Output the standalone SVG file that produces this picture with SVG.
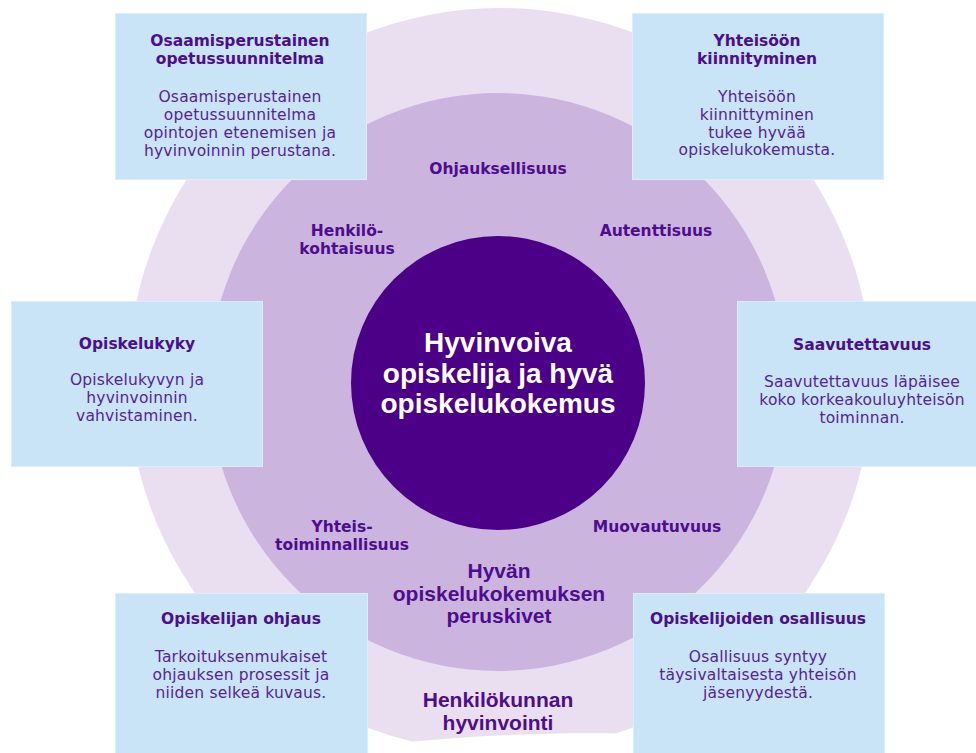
<svg xmlns="http://www.w3.org/2000/svg" width="976" height="753" viewBox="0 0 976 753">
  <style>
    text { text-anchor: middle; }
    .box { fill: #c9e4f6; stroke: #d9edfa; stroke-width: 1; }
    .bt { font-family: "DejaVu Sans", "Liberation Sans", sans-serif; font-size: 15.5px; font-weight: bold; fill: #4b0e8e; }
    .bb { font-family: "DejaVu Sans", "Liberation Sans", sans-serif; font-size: 15.5px; fill: #55229a; letter-spacing: 0.2px; }
    .ring { font-family: "DejaVu Sans", "Liberation Sans", sans-serif; font-size: 15.5px; font-weight: bold; fill: #4e0c90; }
    .big { font-family: "Liberation Sans", Arial, sans-serif; font-size: 21px; font-weight: bold; fill: #4e0c90; }
    .center { font-family: "Liberation Sans", Arial, sans-serif; font-size: 28px; font-weight: bold; fill: #ffffff; }
  </style>
  <rect x="0" y="0" width="976" height="753" fill="#ffffff"/>

  <g id="outer-ring">
    <circle cx="500" cy="380" r="372" fill="#e9dff0"/>
    <path d="M360,753 L360,749 L367,748 C420,738 540,731 640,734 L640,753 Z" fill="#ffffff"/>
    <text class="big" x="498" y="707"><tspan x="498">Henkilökunnan</tspan><tspan x="498" dy="23">hyvinvointi</tspan></text>
  </g>

  <g id="middle-ring">
    <circle cx="498" cy="382" r="289" fill="#cbb5de"/>
    <text class="big" x="499" y="578"><tspan x="499">Hyvän</tspan><tspan x="499" dy="22.5">opiskelukokemuksen</tspan><tspan x="499" dy="22.5">peruskivet</tspan></text>
  </g>

  <g id="label-ohjauksellisuus"><text class="ring" x="498" y="174">Ohjauksellisuus</text></g>
  <g id="label-henkilokohtaisuus">
    <text class="ring" x="347" y="236"><tspan x="347">Henkilö-</tspan><tspan x="347" dy="18.2">kohtaisuus</tspan></text>
  </g>
  <g id="label-autenttisuus"><text class="ring" x="656" y="236">Autenttisuus</text></g>
  <g id="label-yhteistoiminnallisuus">
    <text class="ring" x="342" y="532"><tspan x="342">Yhteis-</tspan><tspan x="342" dy="18.2">toiminnallisuus</tspan></text>
  </g>
  <g id="label-muovautuvuus"><text class="ring" x="657" y="532">Muovautuvuus</text></g>

  <g id="center">
    <circle cx="498" cy="383" r="147" fill="#4b0087"/>
    <text class="center" x="498" y="352"><tspan x="498">Hyvinvoiva</tspan><tspan x="498" dy="31">opiskelija ja hyvä</tspan><tspan x="498" dy="30">opiskelukokemus</tspan></text>
  </g>

  <g id="connectors"></g>

  <g id="box-osaamisperustainen">
    <rect class="box" x="115.5" y="13.5" width="251" height="166"/>
    <text class="bt" x="240" y="46"><tspan x="240">Osaamisperustainen</tspan><tspan x="240" dy="18">opetussuunnitelma</tspan></text>
    <text class="bb" x="240" y="102"><tspan x="240">Osaamisperustainen</tspan><tspan x="240" dy="18">opetussuunnitelma</tspan><tspan x="240" dy="17.7">opintojen etenemisen ja</tspan><tspan x="240" dy="17.8">hyvinvoinnin perustana.</tspan></text>
  </g>

  <g id="box-yhteisoon">
    <rect class="box" x="632.5" y="13.5" width="251" height="166"/>
    <text class="bt" x="757" y="46"><tspan x="757">Yhteisöön</tspan><tspan x="757" dy="18">kiinnityminen</tspan></text>
    <text class="bb" x="757" y="102"><tspan x="757">Yhteisöön</tspan><tspan x="757" dy="17.7">kiinnittyminen</tspan><tspan x="757" dy="17.8">tukee hyvää</tspan><tspan x="757" dy="17.8">opiskelukokemusta.</tspan></text>
  </g>

  <g id="box-opiskelukyky">
    <rect class="box" x="11.5" y="301.5" width="251" height="165"/>
    <text class="bt" x="137" y="349">Opiskelukyky</text>
    <text class="bb" x="137" y="385"><tspan x="137">Opiskelukyvyn ja</tspan><tspan x="137" dy="18">hyvinvoinnin</tspan><tspan x="137" dy="18">vahvistaminen.</tspan></text>
  </g>

  <g id="box-saavutettavuus">
    <rect class="box" x="737.5" y="301.5" width="251" height="165"/>
    <text class="bt" x="862" y="350">Saavutettavuus</text>
    <text class="bb" x="862" y="387"><tspan x="862">Saavutettavuus läpäisee</tspan><tspan x="862" dy="18">koko korkeakouluyhteisön</tspan><tspan x="862" dy="18">toiminnan.</tspan></text>
  </g>

  <g id="box-opiskelijan-ohjaus">
    <rect class="box" x="115.5" y="593.5" width="252" height="170"/>
    <text class="bt" x="241" y="624">Opiskelijan ohjaus</text>
    <text class="bb" x="241" y="662"><tspan x="241">Tarkoituksenmukaiset</tspan><tspan x="241" dy="18">ohjauksen prosessit ja</tspan><tspan x="241" dy="18">niiden selkeä kuvaus.</tspan></text>
  </g>

  <g id="box-opiskelijoiden-osallisuus">
    <rect class="box" x="633.5" y="593.5" width="251" height="170"/>
    <text class="bt" x="758" y="624">Opiskelijoiden osallisuus</text>
    <text class="bb" x="758" y="662"><tspan x="758">Osallisuus syntyy</tspan><tspan x="758" dy="18">täysivaltaisesta yhteisön</tspan><tspan x="758" dy="18">jäsenyydestä.</tspan></text>
  </g>
</svg>
